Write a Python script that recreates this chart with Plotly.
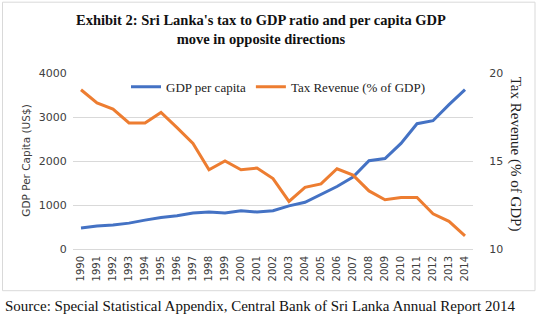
import plotly.graph_objects as go

years = list(range(1990, 2015))
gdp_per_capita = [477, 521, 544, 588, 656, 718, 756, 816, 841, 820, 869, 841, 870, 981,
                  1062, 1241, 1421, 1634, 2007, 2057, 2400, 2848, 2916, 3280, 3620]
tax_revenue = [19.05, 18.3, 17.95, 17.16, 17.16, 17.76, 16.9, 16.0, 14.5, 15.0, 14.5, 14.6, 14.0,
               12.7, 13.5, 13.7, 14.56, 14.2, 13.3, 12.8, 12.93, 12.93, 12.0, 11.57, 10.75]
year_labels = [str(y) for y in years]

L, R, T, B = 73, 473, 73.3, 249.3
W, H = 539, 321
def px(x):
    return (x - L) / (R - L)
def py(y):
    return (B - y) / (B - T)

fig = go.Figure()
fig.add_trace(go.Scatter(x=years, y=gdp_per_capita, name="GDP per capita", mode="lines",
                         line=dict(color="#4472C4", width=3), yaxis="y"))
fig.add_trace(go.Scatter(x=years, y=tax_revenue, name="Tax Revenue (% of GDP)", mode="lines",
                         line=dict(color="#ED7D31", width=3), yaxis="y2"))

tickfont = dict(family="DejaVu Sans", size=10, color="#404040")
fig.update_layout(
    width=W, height=H,
    margin=dict(l=L, r=W - R, t=T, b=H - B),
    paper_bgcolor="white", plot_bgcolor="white",
    showlegend=True,
    legend=dict(orientation="h", x=px(126), y=py(87), xanchor="left", yanchor="middle",
                font=dict(family="Liberation Serif", size=13, color="#222"),
                bgcolor="rgba(0,0,0,0)", itemwidth=30, tracegroupgap=0),
    xaxis=dict(range=[1989.5, 2014.5], tickmode="array", tickvals=years, ticktext=year_labels,
               tickangle=-90, tickfont=tickfont, showgrid=False, showline=True,
               linecolor="#d9d9d9", linewidth=1, ticks="outside", tickcolor="white", ticklen=2,
               zeroline=False),
    yaxis=dict(range=[0, 4000], dtick=1000, tickfont=dict(family="DejaVu Sans", size=11, color="#404040"),
               showgrid=True, gridcolor="#d9d9d9", zeroline=False, ticks="outside",
               tickcolor="white", ticklen=3),
    yaxis2=dict(range=[10, 20], dtick=5, overlaying="y", side="right", showgrid=False, zeroline=False,
                tickfont=dict(family="DejaVu Sans", size=11, color="#404040"), ticks="outside",
                tickcolor="white", ticklen=13),
    shapes=[dict(type="rect", xref="paper", yref="paper", x0=px(2.5), x1=px(535), y0=py(291), y1=py(2.5),
                 line=dict(color="#d9d9d9", width=1), layer="below")],
    annotations=[
        dict(text="<b>Exhibit 2: Sri Lanka's tax to GDP ratio and per capita GDP</b><br><b>move in opposite directions</b>",
             xref="paper", yref="paper", x=px(261), y=py(30), xanchor="center", yanchor="middle",
             showarrow=False, font=dict(family="Liberation Serif", size=14.5, color="#111")),
        dict(text="GDP Per Capita (US$)", textangle=-90, xref="paper", yref="paper",
             x=px(26), y=py(161), xanchor="center", yanchor="middle", showarrow=False,
             font=dict(family="DejaVu Sans", size=10.5, color="#404040")),
        dict(text="Tax Revenue (% of GDP)", textangle=90, xref="paper", yref="paper",
             x=px(515), y=py(154), xanchor="center", yanchor="middle", showarrow=False,
             font=dict(family="Liberation Serif", size=15, color="#222")),
        dict(text="Source: Special Statistical Appendix, Central Bank of Sri Lanka Annual Report 2014",
             xref="paper", yref="paper", x=px(3), y=py(306), xanchor="left", yanchor="middle",
             showarrow=False, font=dict(family="Liberation Serif", size=15, color="#111")),
    ],
)
fig.write_html("out.html")
